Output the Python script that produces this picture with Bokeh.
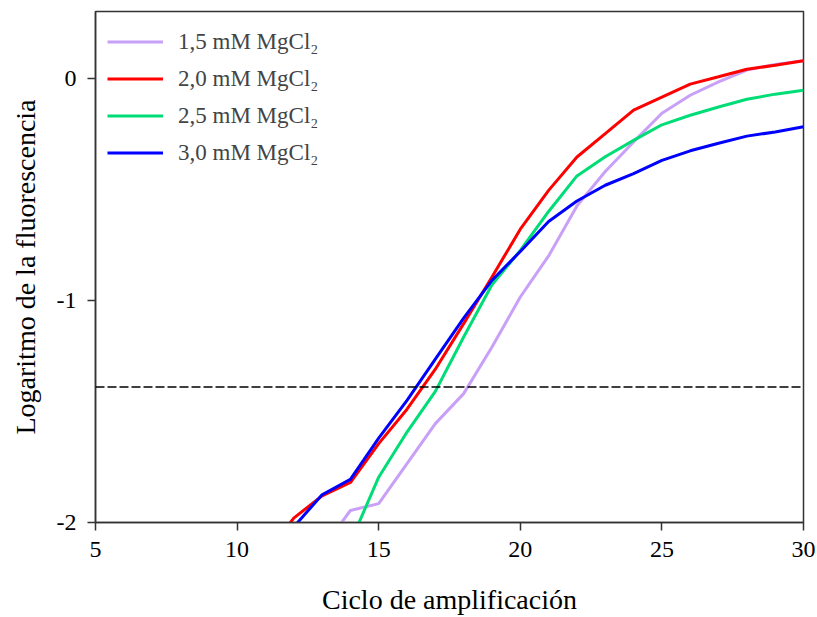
from bokeh.plotting import figure
from bokeh.models import Span, FixedTicker, Legend, LegendItem, Range1d
from bokeh.embed import file_html
from bokeh.resources import INLINE

# Data
cyc_15 = [13, 14, 15, 16, 17, 18, 19, 20, 21, 22, 23, 24, 25, 26, 27, 28, 29, 30]
val_15 = [-2.12, -1.946, -1.915, -1.735, -1.555, -1.42, -1.21, -0.985, -0.80, -0.575,
          -0.42, -0.287, -0.158, -0.077, -0.017, 0.036, 0.062, 0.078]

cyc_20 = [11, 12, 13, 14, 15, 16, 17, 18, 19, 20, 21, 22, 23, 24, 25, 26, 27, 28, 29, 30]
val_20 = [-2.15, -1.98, -1.88, -1.82, -1.645, -1.49, -1.31, -1.105, -0.895, -0.68, -0.505,
          -0.355, -0.25, -0.144, -0.085, -0.027, 0.006, 0.04, 0.058, 0.078]

cyc_25 = [13, 14, 15, 16, 17, 18, 19, 20, 21, 22, 23, 24, 25, 26, 27, 28, 29, 30]
val_25 = [-2.4, -2.09, -1.796, -1.593, -1.41, -1.165, -0.93, -0.775, -0.60, -0.44,
          -0.354, -0.28, -0.21, -0.167, -0.13, -0.095, -0.072, -0.054]

cyc_30 = [11, 12, 13, 14, 15, 16, 17, 18, 19, 20, 21, 22, 23, 24, 25, 26, 27, 28, 29, 30]
val_30 = [-2.2, -2.02, -1.875, -1.806, -1.62, -1.45, -1.265, -1.08, -0.91, -0.78, -0.645,
          -0.553, -0.482, -0.43, -0.37, -0.327, -0.293, -0.261, -0.242, -0.219]

threshold = -1.39

labels = ["1,5 mM MgCl\u2082", "2,0 mM MgCl\u2082", "2,5 mM MgCl\u2082", "3,0 mM MgCl\u2082"]
colors = ["#C8A0F8", "#FF0000", "#00DD77", "#0000FF"]

x_ticks = [5, 10, 15, 20, 25, 30]
y_ticks = [-2, -1, 0]
y_tick_labels = {-2: "-2", -1: "-1", 0: "0"}

FONT = "Liberation Serif"

p = figure(width=817, height=617, output_backend="svg", toolbar_location=None,
           x_range=Range1d(5, 30), y_range=Range1d(-2, 0.3),
           min_border_left=95, min_border_right=14, min_border_top=11, min_border_bottom=95)

p.xgrid.visible = False
p.ygrid.visible = False
p.outline_line_color = "#333333"
p.outline_line_width = 1.5
p.background_fill_color = "white"
p.border_fill_color = "white"

series = [(cyc_15, val_15), (cyc_20, val_20), (cyc_25, val_25), (cyc_30, val_30)]
renderers = []
for (xs, ys), c in zip(series, colors):
    r = p.line(xs, ys, line_color=c, line_width=3)
    renderers.append(r)

p.add_layout(Span(location=threshold, dimension="width", line_color="black",
                  line_width=1.5, line_dash="9 3"))

for ax in (p.xaxis[0], p.yaxis[0]):
    ax.axis_line_color = "#333333"
    ax.axis_line_width = 1.5
    ax.major_tick_line_color = "#333333"
    ax.major_tick_line_width = 1.5
    ax.major_tick_out = 8
    ax.major_tick_in = 0
    ax.minor_tick_out = 0
    ax.minor_tick_in = 0
    ax.major_label_text_font = FONT
    ax.major_label_text_font_size = "24px"
    ax.major_label_text_color = "black"
    ax.axis_label_text_font = FONT
    ax.axis_label_text_font_size = "28px"
    ax.axis_label_text_font_style = "normal"
    ax.axis_label_text_color = "black"
    ax.major_label_standoff = 11

p.xaxis.ticker = FixedTicker(ticks=x_ticks)
p.yaxis.ticker = FixedTicker(ticks=y_ticks)
p.yaxis.major_label_overrides = y_tick_labels
p.xaxis.axis_label = "Ciclo de amplificación"
p.yaxis.axis_label = "Logaritmo de la fluorescencia"
p.xaxis.axis_label_standoff = 24
p.yaxis.axis_label_standoff = 13

legend = Legend(items=[LegendItem(label=l, renderers=[r]) for l, r in zip(labels, renderers)],
                location="top_left", margin=12, padding=0, spacing=0,
                glyph_width=56, glyph_height=37, label_height=37, label_standoff=15,
                label_text_font=FONT, label_text_font_size="23px",
                border_line_color=None, background_fill_alpha=0)
p.add_layout(legend)

open("out.html", "w").write(file_html(p, INLINE))
